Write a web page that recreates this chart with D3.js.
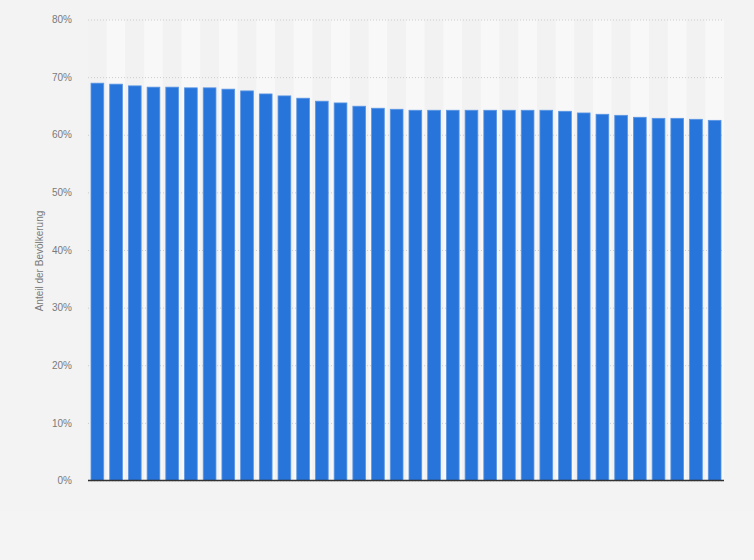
<!DOCTYPE html>
<html>
<head>
<meta charset="utf-8">
<script src="https://cdn.jsdelivr.net/npm/d3@7"></script>
<style>
  html, body { margin: 0; padding: 0; background: #f3f3f3; }
  svg { display: block; font-family: "Liberation Sans", Arial, sans-serif; }
</style>
</head>
<body>
<div id="chart"></div>
<script>
// categories (not labelled on the chart)
var categories = ["1", "2", "3", "4", "5", "6", "7", "8", "9", "10", "11", "12",
    "13", "14", "15", "16", "17", "18", "19", "20", "21", "22", "23", "24",
    "25", "26", "27", "28", "29", "30", "31", "32", "33", "34"];

// share of the population, percent
var shares = [68.95, 68.78, 68.48, 68.26, 68.26, 68.14, 68.14, 67.91, 67.61, 67.08,
    66.74, 66.34, 65.82, 65.52, 64.95, 64.6, 64.42, 64.25, 64.25, 64.25,
    64.25, 64.25, 64.25, 64.25, 64.25, 64.07, 63.78, 63.55, 63.37, 63.03,
    62.85, 62.85, 62.68, 62.5];

var yTicks = [0, 10, 20, 30, 40, 50, 60, 70, 80];
var yTitle = "Anteil der Bevölkerung";

var width = 754, height = 560;
var margin = { top: 19.5, right: 30, bottom: 79.5, left: 88 };

var svg = d3.select("#chart").append("svg")
    .attr("width", width)
    .attr("height", height);

// slightly lighter lower strip
svg.append("rect")
    .attr("x", 0).attr("y", 511)
    .attr("width", width).attr("height", height - 511)
    .attr("fill", "#f4f4f4");

var g = svg.append("g")
    .attr("transform", "translate(" + margin.left + "," + margin.top + ")");

var innerW = width - margin.left - margin.right;
var innerH = height - margin.top - margin.bottom;

var xScale = d3.scaleBand()
    .domain(categories)
    .range([0, innerW])
    .paddingInner(0.32)
    .paddingOuter(0.16);

var yScale = d3.scaleLinear()
    .domain([0, 80])
    .range([innerH, 0]);

var step = xScale.step();

// alternating column bands
g.selectAll(".band")
    .data(categories)
    .enter()
    .append("rect")
    .attr("class", "band")
    .attr("x", function(d) { return xScale(d) - step * 0.16; })
    .attr("y", 0)
    .attr("width", step)
    .attr("height", innerH)
    .attr("fill", function(d, i) { return i % 2 ? "#f8f8f8" : "#f2f2f2"; });

// grid lines + tick labels
var yAxis = g.append("g")
    .call(d3.axisLeft(yScale)
        .tickValues(yTicks)
        .tickSize(-innerW)
        .tickFormat(function(d) { return d + "%"; }));

yAxis.select(".domain").remove();
yAxis.selectAll(".tick line")
    .attr("stroke", "#cccccc")
    .attr("stroke-dasharray", "1,2");
yAxis.selectAll(".tick text")
    .attr("x", -16)
    .attr("fill", "#7a7a7a")
    .style("font-size", "10px");

// bars
g.selectAll(".bar")
    .data(shares)
    .enter()
    .append("rect")
    .attr("class", "bar")
    .attr("x", function(d, i) { return xScale(categories[i]); })
    .attr("y", function(d) { return yScale(d); })
    .attr("width", xScale.bandwidth())
    .attr("height", function(d) { return innerH - yScale(d); })
    .attr("fill", "#2775db")
    .attr("stroke", "#5b96e4")
    .attr("stroke-width", 0.8);

// base line
g.append("line")
    .attr("x1", 0).attr("x2", innerW)
    .attr("y1", innerH).attr("y2", innerH)
    .attr("stroke", "#333")
    .attr("stroke-width", 1.5);

// axis title
svg.append("text")
    .attr("transform", "translate(43," + (margin.top + innerH / 2 + 11) + ") rotate(-90)")
    .attr("text-anchor", "middle")
    .attr("fill", "#7a7a7a")
    .style("font-size", "10px")
    .text(yTitle);
</script>
</body>
</html>
